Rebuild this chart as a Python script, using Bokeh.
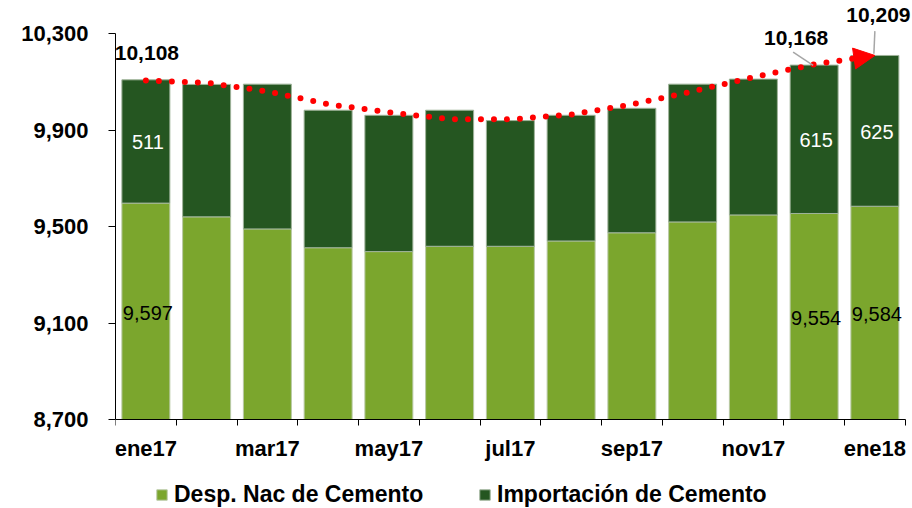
from bokeh.plotting import figure
from bokeh.models import (Range1d, FixedTicker, NumeralTickFormatter, ColumnDataSource,
                          Legend, LegendItem, Label, Arrow, NormalHead)
from bokeh.embed import file_html
from bokeh.resources import INLINE

# ---------------- data ----------------
months = ["ene17", "feb17", "mar17", "abr17", "may17", "jun17", "jul17",
          "ago17", "sep17", "oct17", "nov17", "dic17", "ene18"]
desp = [9597, 9540, 9490, 9412, 9396, 9418, 9418, 9440, 9474, 9519, 9548, 9554, 9584]
imp = [511, 549, 600, 570, 565, 564, 521, 521, 516, 571, 563, 615, 625]
total = [10108, 10089, 10090, 9982, 9961, 9982, 9939, 9961, 9990, 10090, 10111, 10168, 10209]
trend = [10105, 10096, 10060, 10007, 9973, 9945, 9944, 9964, 10006, 10060, 10119, 10172, 10209]
y_ticks = [8700, 9100, 9500, 9900, 10300]
shown_months = ["ene17", "mar17", "may17", "jul17", "sep17", "nov17", "ene18"]
labeled = [0, 11, 12]

# ---------------- layout constants ----------------
W, H = 912, 508
FL = 115                  # frame left border
AX_TOP_PX, AX_BOT_PX = 33, 419   # pixel rows of 10,300 and 8,700
Y0, YTOP = 8700, 10300
PX_Y = (AX_BOT_PX - AX_TOP_PX) / (YTOP - Y0)   # pixels per unit
Y_START = Y0 - (H - AX_BOT_PX) / PX_Y
Y_END = YTOP + AX_TOP_PX / PX_Y
N = len(months)
PX_X = 60.75
X_END = (W - FL) / PX_X

LIGHT = "#7BA62D"
DARK = "#255621"
FONT = "Liberation Sans"

xs = [i + 0.5 for i in range(N)]
top_dark = [d + m for d, m in zip(desp, imp)]
src = ColumnDataSource(dict(x=xs, desp=desp, top=top_dark, base=[Y0] * N))

p = figure(width=W, height=H, output_backend="svg", toolbar_location=None,
           x_range=Range1d(0, X_END), y_range=Range1d(Y_START, Y_END),
           min_border_left=FL, min_border_right=0, min_border_top=0,
           min_border_bottom=0)
p.outline_line_color = None
p.xgrid.visible = False
p.ygrid.visible = False
p.background_fill_color = "white"

r_light = p.vbar(x="x", bottom="base", top="desp", width=0.79, source=src,
                 fill_color=LIGHT, line_color="#b9c9a6", line_width=1)
r_dark = p.vbar(x="x", bottom="desp", top="top", width=0.79, source=src,
                fill_color=DARK, line_color="#9fb39a", line_width=1)

# trend line (dotted) with arrow head
p.line(xs, trend, line_color="red", line_width=6, line_dash="0 13", line_cap="round")
p.add_layout(Arrow(x_start=xs[-2], y_start=trend[-2], x_end=xs[-1], y_end=trend[-1],
                   line_alpha=0,
                   end=NormalHead(size=21, fill_color="red", line_color="red")))

# axes
yax = p.yaxis[0]
yax.ticker = FixedTicker(ticks=y_ticks, minor_ticks=[])
yax.formatter = NumeralTickFormatter(format="0,0")
yax.bounds = (Y0, YTOP)
yax.major_tick_in = 0
yax.major_tick_out = 7
yax.minor_tick_out = 0
yax.minor_tick_in = 0
yax.major_label_standoff = 20
yax.major_label_text_font = FONT
yax.major_label_text_font_style = "bold"
yax.major_label_text_font_size = "22px"
yax.major_label_text_color = "black"
yax.axis_line_color = "black"
yax.major_tick_line_color = "black"

xax = p.xaxis[0]
label_ticks = [i + 0.5 for i, m in enumerate(months) if m in shown_months]
xax.ticker = FixedTicker(ticks=label_ticks, minor_ticks=list(range(N + 1)))
xax.major_label_overrides = {i + 0.5: m for i, m in enumerate(months) if m in shown_months}
xax.fixed_location = Y0
xax.bounds = (0, N)
xax.major_tick_in = 0
xax.major_tick_out = 0
xax.minor_tick_in = 0
xax.minor_tick_out = 6
xax.minor_tick_line_color = "black"
xax.major_label_standoff = 10
xax.major_label_text_font = FONT
xax.major_label_text_font_style = "bold"
xax.major_label_text_font_size = "22px"
xax.major_label_text_color = "black"
xax.axis_line_color = "black"

# value labels inside bars
for i in labeled:
    p.add_layout(Label(x=xs[i], y=(Y0 + desp[i]) / 2, text=f"{desp[i]:,}",
                       x_offset=2, y_offset=-1.5, text_align="center",
                       text_baseline="middle", text_font=FONT,
                       text_font_size="20px", text_color="black"))
    p.add_layout(Label(x=xs[i], y=desp[i] + imp[i] / 2, text=f"{imp[i]:,}",
                       x_offset=2, y_offset=-1, text_align="center",
                       text_baseline="middle", text_font=FONT,
                       text_font_size="20px", text_color="white"))

# total labels (bold) with leader lines
tot_off = {0: (1, 27), 11: (-18, 27.6), 12: (3.5, 40)}
for i, (dx, dy) in tot_off.items():
    p.add_layout(Label(x=xs[i], y=total[i], text=f"{total[i]:,}",
                       x_offset=dx, y_offset=dy, text_align="center",
                       text_baseline="middle", text_font=FONT,
                       text_font_style="bold", text_font_size="21px",
                       text_color="black"))

leaders = {11: ((-21, 13.3), (-1, 0)), 12: ((0, 24.3), (-1, 1.7))}
for i, ((ax, ay), (bx, by)) in leaders.items():
    p.segment(x0=[xs[i] + ax / PX_X], y0=[total[i] + ay / PX_Y],
              x1=[xs[i] + bx / PX_X], y1=[total[i] + by / PX_Y],
              line_color="#a6a6a6", line_width=1.5)

# legend at the bottom of the frame
lg = Legend(items=[LegendItem(label="Desp. Nac de Cemento", renderers=[r_light]),
                   LegendItem(label="Importación de Cemento", renderers=[r_dark])],
            location=(40, 0), orientation="horizontal",
            padding=0, margin=0, spacing=0,
            glyph_width=13, glyph_height=13, label_height=13,
            label_width=304, label_standoff=6, border_line_color=None,
            background_fill_alpha=0,
            label_text_font=FONT, label_text_font_style="bold",
            label_text_font_size="23px", label_text_color="black")
p.add_layout(lg)

open("out.html", "w").write(file_html(p, INLINE))
